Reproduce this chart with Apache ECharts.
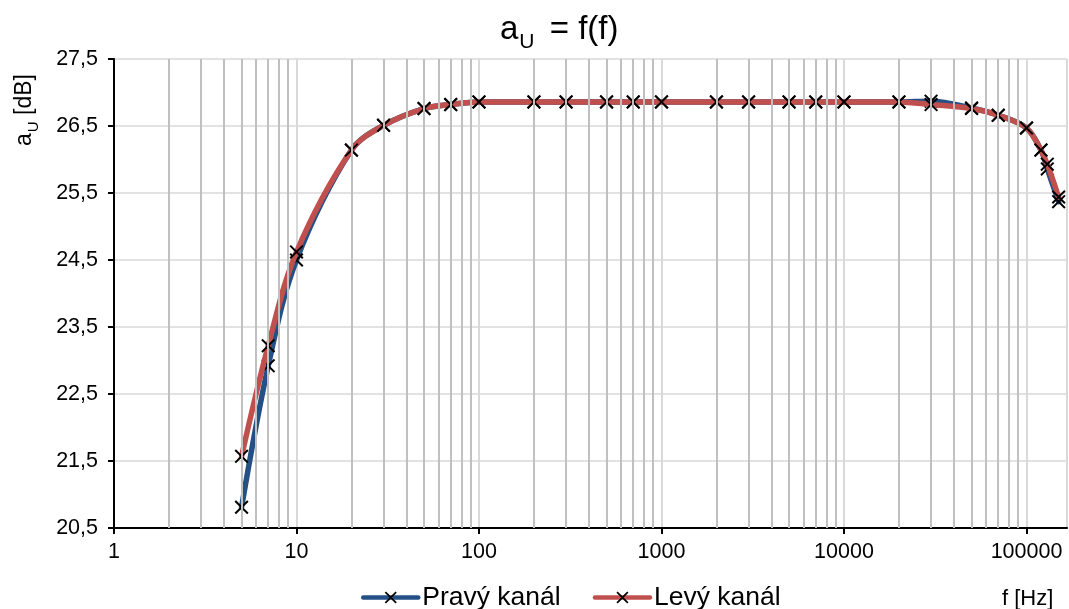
<!DOCTYPE html>
<html>
<head>
<meta charset="utf-8">
<script src="https://cdn.jsdelivr.net/npm/echarts@6/dist/echarts.min.js"></script>
<style>
html,body{margin:0;padding:0;background:#fff;}
#c{width:1069px;height:609px;}
</style>
</head>
<body>
<div id="c"></div>
<script>
// ---- data ----
const freqs = [5, 7, 10, 20, 30, 50, 70, 100, 200, 300, 500, 700, 1000, 2000, 3000, 5000, 7000, 10000, 20000, 30000, 50000, 70000, 100000, 120000, 130000, 150000];
const pravyKanal = [20.81, 22.92, 24.50, 26.14, 26.51, 26.76, 26.82, 26.86, 26.86, 26.86, 26.86, 26.86, 26.86, 26.86, 26.86, 26.86, 26.86, 26.86, 26.86, 26.87, 26.77, 26.66, 26.47, 26.14, 25.86, 25.37];
const levyKanal  = [21.57, 23.22, 24.62, 26.14, 26.51, 26.76, 26.82, 26.86, 26.86, 26.86, 26.86, 26.86, 26.86, 26.86, 26.86, 26.86, 26.86, 26.86, 26.86, 26.82, 26.76, 26.66, 26.47, 26.14, 25.93, 25.44];
const minorGridFreqs = [2,3,4,5,6,7,8,9,20,30,40,50,60,70,80,90,200,300,400,500,600,700,800,900,2000,3000,4000,5000,6000,7000,8000,9000,20000,30000,40000,50000,60000,70000,80000,90000];
const seriesNames = ['Pravý kanál', 'Levý kanál'];
const yMin = 20.5, yMax = 27.5, yStep = 1;

const FONT = 'Liberation Sans, Arial, sans-serif';
const xMark = 'path://M1,0 L5,4 L9,0 L10,1 L6,5 L10,9 L9,10 L5,6 L1,10 L0,9 L4,5 L0,1 Z';

const chart = echarts.init(document.getElementById('c'), null, {renderer: 'canvas'});

function mkSeries(name, vals, color, z) {
  return {
    name: name,
    type: 'line',
    data: freqs.map((f, i) => [f, vals[i]]),
    smooth: 0.35,
    symbol: xMark,
    symbolSize: 14,
    showAllSymbol: true,
    z: z,
    itemStyle: {color: '#000'},
    lineStyle: {color: color, width: 5.5, cap: 'round', join: 'round'},
    emphasis: {disabled: true},
    animation: false
  };
}

const option = {
  animation: false,
  textStyle: {fontFamily: FONT},
  grid: {left: 114, top: 59, right: 2, bottom: 81, containLabel: false},
  xAxis: {
    type: 'log',
    logBase: 10,
    min: 1,
    max: 166700,
    axisLine: {show: true, onZero: false, lineStyle: {color: '#000', width: 2}},
    axisTick: {show: true, length: 6, lineStyle: {color: '#000', width: 2}},
    axisLabel: {
      color: '#000', fontSize: 21.5, fontFamily: FONT, margin: 13,
      showMaxLabel: false,
      formatter: v => String(Math.round(v))
    },
    splitLine: {show: true, lineStyle: {color: '#d9d9d9', width: 2}},
    minorTick: {show: false},
    minorSplitLine: {show: false}
  },
  yAxis: {
    type: 'value',
    min: yMin,
    max: yMax,
    interval: yStep,
    axisLine: {show: true, lineStyle: {color: '#000', width: 2}},
    axisTick: {show: true, length: 6, lineStyle: {color: '#000', width: 2}},
    axisLabel: {
      color: '#000', fontSize: 21.5, fontFamily: FONT, margin: 16,
      formatter: v => v.toFixed(1).replace('.', ',')
    },
    splitLine: {show: true, lineStyle: {color: '#d9d9d9', width: 1.5}}
  },
  legend: {
    data: seriesNames,
    bottom: -2,
    left: 361,
    padding: 0,
    itemWidth: 55,
    itemHeight: 15,
    itemGap: 32,
    lineStyle: {width: 4.5, cap: 'round'},
    textStyle: {color: '#000', fontSize: 26.5, fontFamily: FONT, padding: [0, 0, 0, -1]}
  },
  graphic: [
    {
      type: 'text',
      left: 500,
      top: 13,
      style: {
        text: '{a|a}{s|U}{a| = f(f)}',
        rich: {
          a: {fontSize: 33, fontFamily: FONT, fill: '#000', lineHeight: 38, verticalAlign: 'top'},
          s: {fontSize: 21, fontFamily: FONT, fill: '#000', lineHeight: 21, verticalAlign: 'top', padding: [19, 6, 0, 1]}
        }
      }
    },
    {
      type: 'text',
      x: 26,
      y: 110,
      rotation: Math.PI / 2,
      style: {
        text: '{a|a}{s|U}{a| [dB]}',
        align: 'center',
        verticalAlign: 'middle',
        rich: {
          a: {fontSize: 23, fontFamily: FONT, fill: '#000', lineHeight: 26, verticalAlign: 'top'},
          s: {fontSize: 15, fontFamily: FONT, fill: '#000', lineHeight: 15, verticalAlign: 'top', padding: [13, 0, 0, 1]}
        }
      }
    },
    {
      type: 'text',
      left: 1002,
      top: 588,
      style: {text: 'f [Hz]', fontSize: 22, fontFamily: FONT, fill: '#000'}
    }
  ],
  series: [
    {
      name: 'grid-minor',
      type: 'line',
      data: [],
      z: 1,
      silent: true,
      markLine: {
        silent: true,
        symbol: ['none', 'none'],
        label: {show: false},
        lineStyle: {color: '#c0c0c0', width: 2, type: 'solid'},
        emphasis: {disabled: true},
        animation: false,
        data: minorGridFreqs.map(f => ({xAxis: f}))
      }
    },
    mkSeries(seriesNames[0], pravyKanal, '#255086', 3),
    mkSeries(seriesNames[1], levyKanal, '#c0504d', 4)
  ]
};
chart.setOption(option);
</script>
</body>
</html>
